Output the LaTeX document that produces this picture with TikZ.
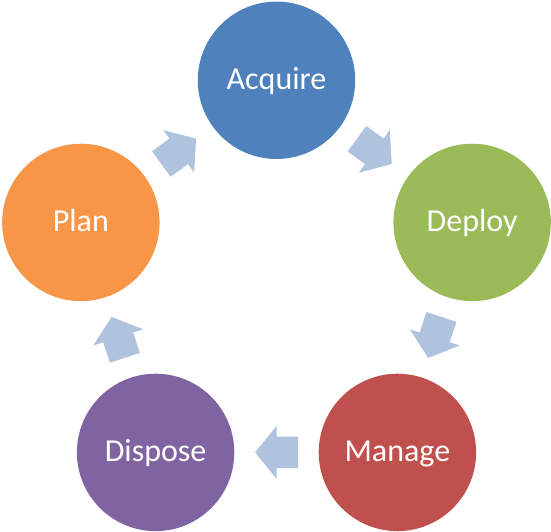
\documentclass[tikz,border=0pt]{standalone}
\usepackage{fontspec}
\setmainfont{Carlito}
\usetikzlibrary{calc}
\definecolor{acqc}{HTML}{4F81BD}
\definecolor{depc}{HTML}{9BBB59}
\definecolor{manc}{HTML}{C0504D}
\definecolor{disc}{HTML}{8064A2}
\definecolor{plac}{HTML}{F79646}
\definecolor{arrowc}{HTML}{B0C3DE}
\tikzset{
  stage/.style={circle, draw=none, minimum size=157.4pt, inner sep=0pt, text=white,
    font=\fontsize{32}{38}\selectfont, text height=23pt, text depth=5pt},
  cyclearrow/.pic={\fill[arrowc] (-21.5,-15.8) -- (0,-15.8) -- (0,-26.3) -- (21.5,0)
    -- (0,26.3) -- (0,15.8) -- (-21.5,15.8) -- cycle;}
}
\begin{document}
\begin{tikzpicture}[x=1pt,y=1pt]
\useasboundingbox (0,0) rectangle (551,532);
\coordinate (O) at (276.5,246);
\node[stage, fill=acqc] (acq) at ($(O)+(90:205.7)$) {Acquire};
\node[stage, fill=depc] (dep) at ($(O)+(18:205.7)$) {Deploy};
\node[stage, fill=manc] (man) at ($(O)+(-54:205.7)$) {Manage};
\node[stage, fill=disc] (dis) at ($(O)+(-126:205.7)$) {Dispose};
\node[stage, fill=plac] (pla) at ($(O)+(162:205.7)$) {Plan};
\coordinate (m1) at ($(acq)!0.5!(dep)$);
\coordinate (m2) at ($(dep)!0.5!(man)$);
\coordinate (m3) at ($(man)!0.5!(dis)$);
\coordinate (m4) at ($(dis)!0.5!(pla)$);
\coordinate (m5) at ($(pla)!0.5!(acq)$);
\pic[rotate=-36] at (m1) {cyclearrow};
\pic[rotate=-108] at (m2) {cyclearrow};
\pic[rotate=180] at (m3) {cyclearrow};
\pic[rotate=108] at (m4) {cyclearrow};
\pic[rotate=36] at (m5) {cyclearrow};
\end{tikzpicture}
\end{document}
